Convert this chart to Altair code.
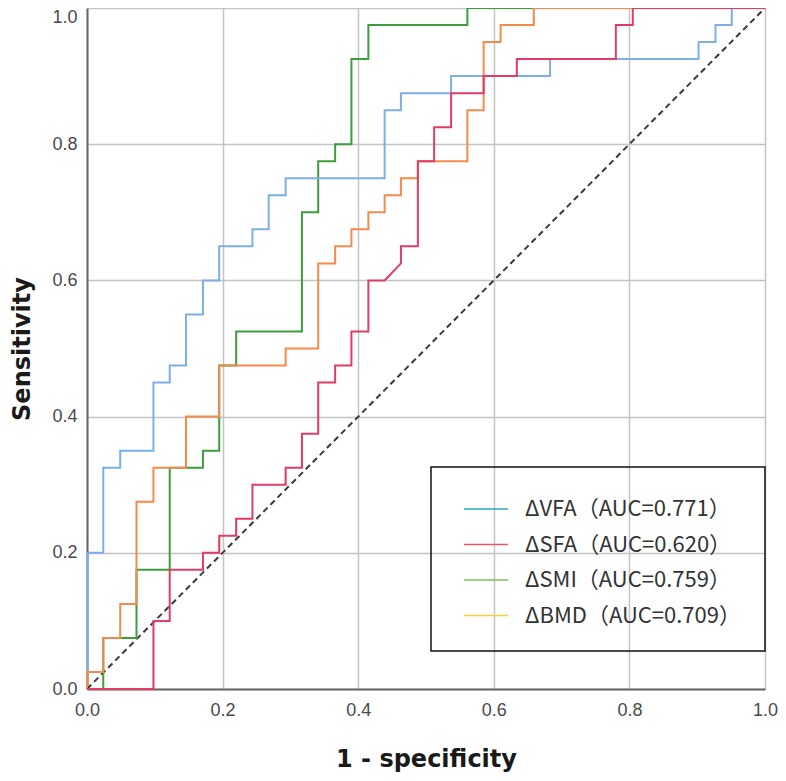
import altair as alt
import pandas as pd

names = ["ΔVFA", "ΔSFA", "ΔSMI", "ΔBMD"]
aucs = ["0.771", "0.620", "0.759", "0.709"]
line_colors = ["#7eaee8", "#e03c64", "#3c9e3c", "#f58a4a"]
legend_colors = ["#2ea5bf", "#e8566e", "#7ac259", "#f3d03a"]
draw_order = ["ΔSMI", "ΔVFA", "ΔBMD", "ΔSFA"]

vfa_x = [0, 0, 0.024, 0.024, 0.049, 0.049, 0.098, 0.098, 0.122, 0.122, 0.146, 0.146,
         0.171, 0.171, 0.195, 0.195, 0.244, 0.244, 0.268, 0.268, 0.293, 0.293, 0.439,
         0.439, 0.463, 0.463, 0.537, 0.537, 0.683, 0.683, 0.902, 0.902, 0.927, 0.927,
         0.951, 0.951, 1.0]
vfa_y = [0, 0.2, 0.2, 0.325, 0.325, 0.35, 0.35, 0.45, 0.45, 0.475, 0.475, 0.55,
         0.55, 0.6, 0.6, 0.65, 0.65, 0.675, 0.675, 0.725, 0.725, 0.75, 0.75,
         0.85, 0.85, 0.875, 0.875, 0.9, 0.9, 0.925, 0.925, 0.95, 0.95, 0.975,
         0.975, 1.0, 1.0]

sfa_x = [0, 0.098, 0.098, 0.122, 0.122, 0.171, 0.171, 0.195, 0.195, 0.220, 0.220,
         0.244, 0.244, 0.293, 0.293, 0.317, 0.317, 0.341, 0.341, 0.366, 0.366, 0.390,
         0.390, 0.415, 0.415, 0.439, 0.463, 0.463, 0.488, 0.488, 0.512, 0.512, 0.537,
         0.537, 0.585, 0.585, 0.634, 0.634, 0.780, 0.780, 0.805, 0.805, 1.0]
sfa_y = [0, 0, 0.1, 0.1, 0.175, 0.175, 0.2, 0.2, 0.225, 0.225, 0.25,
         0.25, 0.3, 0.3, 0.325, 0.325, 0.375, 0.375, 0.45, 0.45, 0.475, 0.475,
         0.525, 0.525, 0.6, 0.6, 0.625, 0.65, 0.65, 0.775, 0.775, 0.825, 0.825,
         0.875, 0.875, 0.9, 0.9, 0.925, 0.925, 0.975, 0.975, 1.0, 1.0]

smi_x = [0, 0.024, 0.024, 0.073, 0.073, 0.122, 0.122, 0.171, 0.171, 0.195, 0.195,
         0.220, 0.220, 0.317, 0.317, 0.341, 0.341, 0.366, 0.366, 0.390, 0.390, 0.415,
         0.415, 0.561, 0.561, 1.0]
smi_y = [0, 0, 0.075, 0.075, 0.175, 0.175, 0.325, 0.325, 0.35, 0.35, 0.475,
         0.475, 0.525, 0.525, 0.7, 0.7, 0.775, 0.775, 0.8, 0.8, 0.925, 0.925,
         0.975, 0.975, 1.0, 1.0]

bmd_x = [0, 0, 0.024, 0.024, 0.049, 0.049, 0.073, 0.073, 0.098, 0.098, 0.146, 0.146,
         0.195, 0.195, 0.293, 0.293, 0.341, 0.341, 0.366, 0.366, 0.390, 0.390, 0.415,
         0.415, 0.439, 0.439, 0.463, 0.463, 0.488, 0.488, 0.561, 0.561, 0.585, 0.585,
         0.610, 0.610, 0.659, 0.659, 1.0]
bmd_y = [0, 0.025, 0.025, 0.075, 0.075, 0.125, 0.125, 0.275, 0.275, 0.325, 0.325, 0.4,
         0.4, 0.475, 0.475, 0.5, 0.5, 0.625, 0.625, 0.65, 0.65, 0.675, 0.675,
         0.7, 0.7, 0.725, 0.725, 0.75, 0.75, 0.775, 0.775, 0.85, 0.85, 0.95,
         0.95, 0.975, 0.975, 1.0, 1.0]

diag_x = [0.0, 1.0]
diag_y = [0.0, 1.0]
tick_values = [0.0, 0.2, 0.4, 0.6, 0.8, 1.0]

series_xy = {"ΔVFA": (vfa_x, vfa_y), "ΔSFA": (sfa_x, sfa_y),
             "ΔSMI": (smi_x, smi_y), "ΔBMD": (bmd_x, bmd_y)}
labels = [f"{n}（AUC={a}）" for n, a in zip(names, aucs)]
label_of = dict(zip(names, labels))
color_of = dict(zip(names, line_colors))

rows = []
for n in names:
    xs, ys = series_xy[n]
    for i, (xv, yv) in enumerate(zip(xs, ys)):
        rows.append({"series": n, "label": label_of[n], "idx": i, "fpr": xv, "tpr": yv})
df = pd.DataFrame(rows)
diag_df = pd.DataFrame({"fpr": diag_x, "tpr": diag_y, "idx": [0, 1]})

x_enc = alt.X("fpr:Q", scale=alt.Scale(domain=[0, 1], nice=False),
              axis=alt.Axis(values=tick_values, format=".1f", title="1 - specificity",
                            labelPadding=12, titlePadding=28, labelFlush=False))
y_enc = alt.Y("tpr:Q", scale=alt.Scale(domain=[0, 1], nice=False),
              axis=alt.Axis(values=tick_values, format=".1f", title="Sensitivity",
                            labelPadding=10, titlePadding=17, labelFlush=False,
                            labelBaseline={"condition": {"test": "datum.value == 1",
                                                         "value": "top"},
                                           "value": "middle"}))

layers = []
diag = alt.Chart(diag_df).mark_line(strokeDash=[6, 4], color="#3a3a3a", strokeWidth=2).encode(
    x=x_enc, y=y_enc, order="idx:Q")
layers.append(diag)

for n in draw_order:
    layers.append(
        alt.Chart(df).transform_filter(alt.datum.series == n)
        .mark_line(strokeWidth=2, color=color_of[n])
        .encode(x=x_enc, y=y_enc, order="idx:Q")
    )

legend_layer = alt.Chart(df).transform_filter("false").mark_line().encode(
    x=x_enc, y=y_enc,
    color=alt.Color("label:N",
                    scale=alt.Scale(domain=labels, range=legend_colors),
                    legend=alt.Legend(
                        title=None, orient="none", legendX=344, legendY=459,
                        direction="vertical", padding=24, strokeColor="#111111",
                        symbolType="M-1.275,0H1.275", symbolSize=1190,
                        symbolStrokeWidth=1.5, symbolOffset=13, labelOffset=21,
                        labelFont="Noto Sans CJK SC", labelFontSize=22,
                        labelColor="#333333", labelLimit=600,
                        labelExpr="datum.label + '" + "\u00a0" * 9 + "'",
                    )),
)
layers.append(legend_layer)

chart = alt.layer(*layers).properties(
    width=678, height=681,
    autosize=alt.AutoSizeParams(type="none"),
    padding={"left": 79, "top": 0, "right": 13, "bottom": 84},
).configure_view(strokeWidth=0).configure_axis(
    grid=True, gridColor="#c4c4c4", gridWidth=1.5,
    domainColor="#666666", domainWidth=2, ticks=False,
    labelFont="Liberation Sans", labelFontSize=18, labelColor="#4a4a4a",
    titleFont="DejaVu Sans", titleFontSize=24, titleFontWeight="bold",
    titleColor="#1a1a1a",
).configure_legend(rowPadding=6.5, strokeWidth=1.5)

chart.save("out.html", embed_options={"renderer": "svg", "actions": False})
